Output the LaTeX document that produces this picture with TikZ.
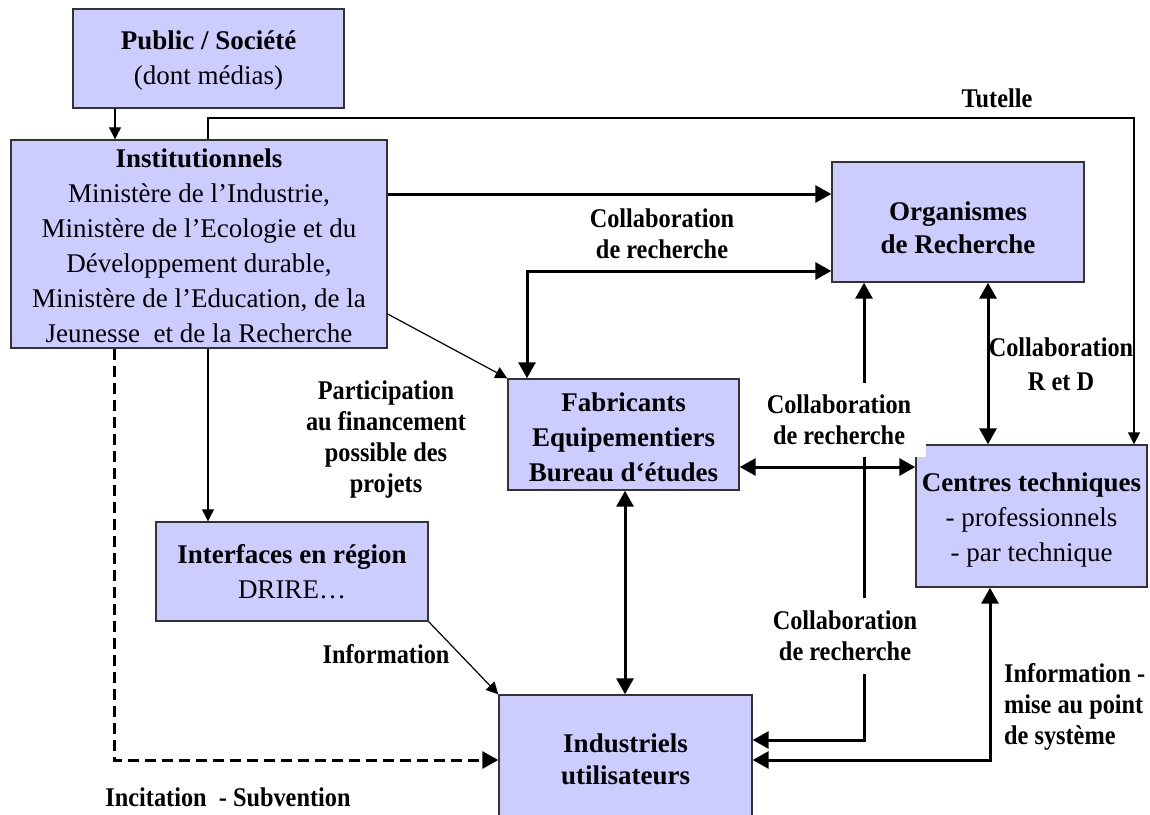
\documentclass[tikz,border=0pt]{standalone}
\usepackage{fontspec}
\setmainfont{Liberation Serif}
\newfontfamily\lblfont[FakeStretch=0.9]{Liberation Serif}
\usetikzlibrary{arrows.meta}
\definecolor{boxfill}{HTML}{CCCCFF}
\definecolor{boxline}{HTML}{333333}
\tikzset{
  box/.style={draw=boxline, fill=boxfill, line width=1.4pt, align=center, inner sep=0pt,
    font=\fontsize{27}{35}\selectfont},
  lbl/.style={align=center, inner sep=0pt, font=\lblfont\bfseries\fontsize{27}{31}\selectfont},
  whitelbl/.style={lbl, fill=white, minimum width=174pt},
  thk/.style={line width=3pt},
  thn/.style={line width=1.2pt},
  bigtri/.tip={Triangle[length=16pt,width=17pt]},
  smalltri/.tip={Triangle[length=12pt,width=12pt]},
  dsh/.style={dash pattern=on 11pt off 6pt}
}
\begin{document}
\begin{tikzpicture}[x=1pt,y=-1pt]
\useasboundingbox (0,0) rectangle (1150,814);
\clip (0,0) rectangle (1150,814);

% boxes
\node[box, minimum width=271pt, minimum height=99pt] (pub) at (208.5,58.5)
  {\rule{0pt}{22pt}\textbf{Public / Société}\\(dont médias)};
\node[box, minimum width=376pt, minimum height=208pt] (inst) at (199,244)
  {\rule{0pt}{23pt}\textbf{Institutionnels}\\Ministère de l’Industrie,\\Ministère de l’Ecologie et du\\Développement durable,\\Ministère de l’Education, de la\\Jeunesse \ et de la Recherche};
\node[box, minimum width=252pt, minimum height=120pt] (org) at (958,222)
  {\rule{0pt}{31pt}\textbf{Organismes}\\[-2pt]\textbf{de Recherche}};
\node[box, minimum width=231pt, minimum height=111pt] (fab) at (623.5,434.5)
  {\rule{0pt}{25pt}\textbf{Fabricants}\\\textbf{Equipementiers}\\\textbf{Bureau d‘études}};
\node[box, minimum width=231pt, minimum height=142pt] (cen) at (1031.5,516)
  {\rule{0pt}{27pt}\textbf{Centres techniques}\\- professionnels\\- par technique};
\node[box, minimum width=272pt, minimum height=99pt] (int) at (292,571.5)
  {\textbf{Interfaces en région}\\DRIRE…};
\node[box, minimum width=253pt, minimum height=128pt] (ind) at (625.5,759)
  {\textbf{Industriels}\\[-3pt]\textbf{utilisateurs}};

% helper coordinates
\coordinate (cA) at (115,0);
\coordinate (cT1) at (208,118);
\coordinate (cT2) at (1134,118);
\coordinate (cY1) at (0,194);
\coordinate (cF) at (527,271);
\coordinate (cY2) at (0,314);
\coordinate (cD) at (114,760);
\coordinate (cV) at (625,0);
\coordinate (cH) at (0,467);
\coordinate (cR) at (988,0);
\coordinate (cC) at (864,740);
\coordinate (cI) at (990,760);

% connectors
\draw[thn,-smalltri] (pub.south -| cA) -- (inst.north -| cA);
\draw[thn,-smalltri] (inst.north -| cT1) -- (cT1) -- (cT2) -- (cen.north -| cT2);
\draw[thk,-bigtri] (inst.east |- cY1) -- (org.west |- cY1);
\draw[thk,bigtri-bigtri] (fab.north -| cF) -- (cF) -- (org.west |- cF);
\draw[thn,-smalltri] (inst.east |- cY2) -- (fab.north west);
\draw[thn,-smalltri] (inst.south -| cT1) -- (int.north -| cT1);
\draw[thk,dsh,-bigtri] (inst.south -| cD) -- (cD) -- (ind.west |- cD);
\draw[thn,-smalltri] (int.south east) -- (ind.north west);
\draw[thk,bigtri-bigtri] (fab.south -| cV) -- (ind.north -| cV);
\draw[thk,bigtri-bigtri] (fab.east |- cH) -- (cen.west |- cH);
\draw[thk,bigtri-bigtri] (org.south -| cR) -- (cen.north -| cR);
\draw[thk,bigtri-bigtri] (org.south -| cC) -- (cC) -- (ind.east |- cC);
\draw[thk,bigtri-bigtri] (ind.east |- cI) -- (cI) -- (cen.south -| cI);

% labels
\node[lbl] (ltut) at (997,98) {Tutelle};
\node[lbl] (lcol1) at (662,234) {Collaboration\\de recherche};
\node[lbl, font=\lblfont\bfseries\fontsize{27}{34}\selectfont] (lrd) at (1061,364) {Collaboration\\R et D};
\node[lbl] (lpart) at (386,439) {Participation\\au financement\\possible des\\projets};
\node[whitelbl, minimum height=74pt] (lcol2) at (839,420) {Collaboration\\de recherche};
\node[whitelbl, minimum height=76pt] (lcol3) at (845,636) {Collaboration\\de recherche};
\node[lbl] (linfo) at (386,654) {Information};
\node[lbl, align=left, anchor=west] (linfo2) at (1004,707) {Information -\\mise au point\\de système};
\node[lbl] (linc) at (228,797) {Incitation \ - Subvention};
\end{tikzpicture}
\end{document}
